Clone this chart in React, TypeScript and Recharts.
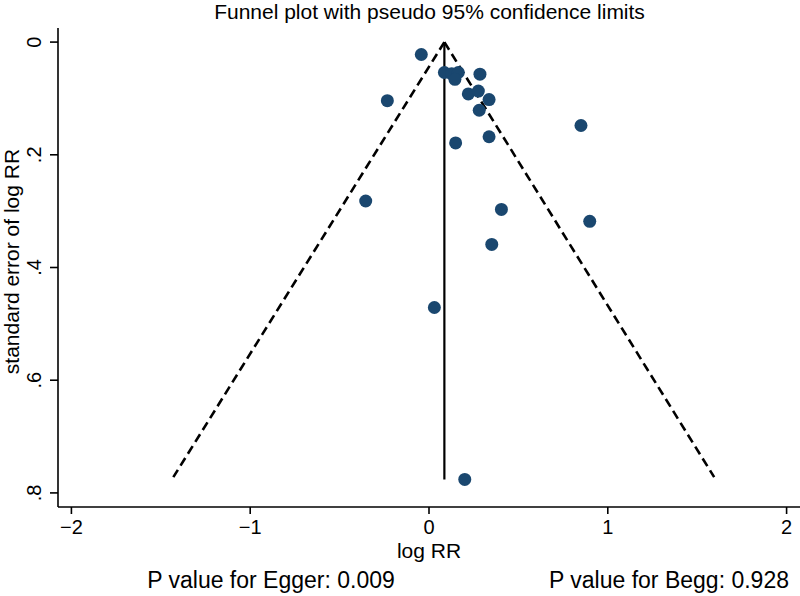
import React from 'react';
import { ScatterChart, Scatter, XAxis, YAxis, ReferenceLine } from 'recharts';

// Study estimates
const logRR = [-0.043, 0.086, 0.127, 0.164, 0.145, 0.285, 0.22, 0.276, 0.336, 0.281, -0.233, 0.85, 0.336, 0.149, -0.354, 0.405, 0.351, 0.899, 0.03, 0.2];
const seLogRR = [0.022, 0.054, 0.056, 0.054, 0.066, 0.057, 0.092, 0.087, 0.102, 0.121, 0.104, 0.148, 0.168, 0.179, 0.282, 0.297, 0.359, 0.318, 0.471, 0.776];

// Funnel (pseudo 95% limits)
const pooledLogRR = 0.086;
const funnelBottomSe = 0.772;
const funnelLeftX = -1.43;
const funnelRightX = 1.595;
const pooledLineBottomSe = 0.776;

const xTicks = [-2, -1, 0, 1, 2];
const yTicks = [0, 0.2, 0.4, 0.6, 0.8];
const xDomain = [-2.075, 2.075];
const yDomain = [-0.025, 0.825];

const titleText = 'Funnel plot with pseudo 95% confidence limits';
const xLabelText = 'log RR';
const yLabelText = 'standard error of log RR';
const eggerText = 'P value for Egger: 0.009';
const beggText = 'P value for Begg: 0.928';

const points = logRR.map((x, i) => ({ x, y: seLogRR[i] }));

const FONT = '"Liberation Sans", Arial, Helvetica, sans-serif';
const DOT = '#1a476f';

const fmtX = (v: number) => (v < 0 ? '\u2212' + Math.abs(v) : String(v));
const fmtY = (v: number) => (v === 0 ? '0' : String(v).replace(/^0/, ''));

const XTick = (props: any) => {
  const { x, y, payload } = props;
  return (
    <text x={x} y={y + 18} textAnchor="middle" fontSize={20} fontFamily={FONT} fill="#000">
      {fmtX(payload.value)}
    </text>
  );
};

const YTick = (props: any) => {
  const { x, y, payload } = props;
  const tx = x - 7;
  return (
    <text x={tx} y={y} textAnchor="middle" fontSize={20} fontFamily={FONT} fill="#000" transform={`rotate(-90, ${tx}, ${y})`}>
      {fmtY(payload.value)}
    </text>
  );
};

const Dot = (props: any) => {
  const { cx, cy } = props;
  if (cx == null || cy == null) return <g />;
  return <circle cx={cx} cy={cy} r={6.5} fill={DOT} />;
};

export default function App() {
  return (
    <div style={{ position: 'absolute', left: 0, top: 0, width: 800, height: 596, background: '#fff', fontFamily: FONT }}>
      <ScatterChart width={800} height={596} margin={{ top: 28, right: 0, left: 0, bottom: 0 }}>
        <XAxis
          type="number"
          dataKey="x"
          domain={xDomain}
          ticks={xTicks}
          interval={0}
          allowDataOverflow
          height={89}
          tickSize={7}
          axisLine={{ stroke: '#000', strokeWidth: 1.6 }}
          tickLine={{ stroke: '#000', strokeWidth: 1.6 }}
          tick={<XTick />}
        />
        <YAxis
          type="number"
          dataKey="y"
          domain={yDomain}
          ticks={yTicks}
          interval={0}
          reversed
          allowDataOverflow
          width={58}
          tickSize={8}
          axisLine={{ stroke: '#000', strokeWidth: 1.6 }}
          tickLine={{ stroke: '#000', strokeWidth: 1.6 }}
          tick={<YTick />}
        />
        <ReferenceLine
          segment={[{ x: pooledLogRR, y: 0 }, { x: funnelLeftX, y: funnelBottomSe }]}
          stroke="#000"
          strokeWidth={2.6}
          strokeDasharray="9 5"
          ifOverflow="visible"
        />
        <ReferenceLine
          segment={[{ x: pooledLogRR, y: 0 }, { x: funnelRightX, y: funnelBottomSe }]}
          stroke="#000"
          strokeWidth={2.6}
          strokeDasharray="9 5"
          ifOverflow="visible"
        />
        <ReferenceLine
          segment={[{ x: pooledLogRR, y: 0 }, { x: pooledLogRR, y: pooledLineBottomSe }]}
          stroke="#000"
          strokeWidth={2.2}
          ifOverflow="visible"
        />
        <Scatter data={points} shape={<Dot />} isAnimationActive={false} />
      </ScatterChart>

      <div style={{ position: 'absolute', left: 129.5, width: 600, top: 1, textAlign: 'center', fontSize: 21, lineHeight: '21px', color: '#000', whiteSpace: 'nowrap' }}>
        {titleText}
      </div>
      <div style={{ position: 'absolute', left: 329, width: 200, top: 540, textAlign: 'center', fontSize: 21, lineHeight: '21px', color: '#000', whiteSpace: 'nowrap' }}>
        {xLabelText}
      </div>
      <div style={{ position: 'absolute', left: 11 - 150, width: 300, top: 261 - 10.5, height: 21, textAlign: 'center', fontSize: 21, lineHeight: '21px', color: '#000', whiteSpace: 'nowrap', transform: 'rotate(-90deg)', transformOrigin: '150px 10.5px' }}>
        {yLabelText}
      </div>
      <div style={{ position: 'absolute', left: 271 - 200, width: 400, top: 569, textAlign: 'center', fontSize: 23, lineHeight: '23px', color: '#000', whiteSpace: 'nowrap' }}>
        {eggerText}
      </div>
      <div style={{ position: 'absolute', left: 669 - 200, width: 400, top: 569, textAlign: 'center', fontSize: 23, lineHeight: '23px', color: '#000', whiteSpace: 'nowrap' }}>
        {beggText}
      </div>
    </div>
  );
}
